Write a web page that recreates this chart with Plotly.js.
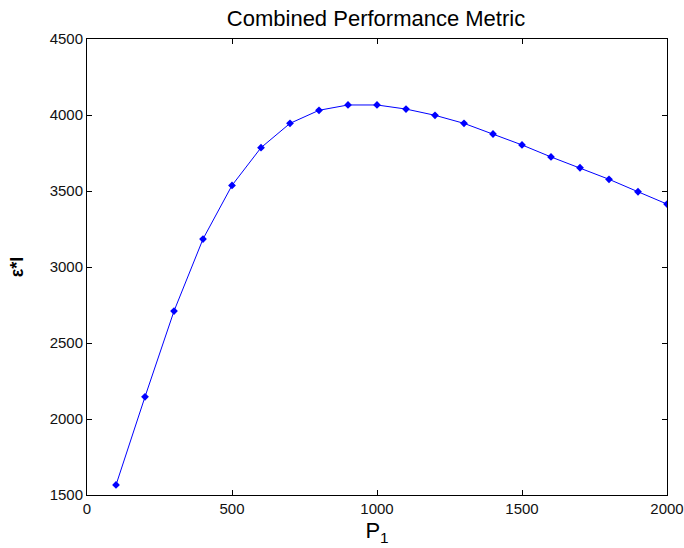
<!DOCTYPE html>
<html>
<head>
<meta charset="utf-8">
<script src="https://cdn.plot.ly/plotly-3.0.1.min.js"></script>
<style>html,body{margin:0;padding:0;background:#fff;}#chart{width:684px;height:548px;}</style>
</head>
<body>
<div id="chart"></div>
<script>
const p1 = [100, 200, 300, 400, 500, 600, 700, 800, 900, 1000, 1100, 1200, 1300, 1400, 1500, 1600, 1700, 1800, 1900, 2000];
const metric = [1566, 2146, 2710, 3184, 3537, 3785, 3945, 4031, 4066, 4066, 4039, 3998, 3945, 3875, 3803, 3724, 3653, 3577, 3495, 3414];
const xTicks = [0, 500, 1000, 1500, 2000];
const yTicks = [1500, 2000, 2500, 3000, 3500, 4000, 4500];

const trace = {
  x: p1, y: metric, type: 'scatter', mode: 'lines+markers',
  line: {color: '#0000ff', width: 1},
  marker: {symbol: 'diamond', size: 6, color: '#0000ff'},
  hoverinfo: 'none'
};
const fontFam = 'Liberation Sans, Arial, Helvetica, sans-serif';
const axisCommon = {
  showline: true, linecolor: '#000', linewidth: 1, mirror: 'ticks',
  ticks: 'inside', ticklen: 5, tickcolor: '#000', tickwidth: 1,
  showgrid: false, zeroline: false,
  tickfont: {family: fontFam, size: 15, color: '#111'}
};
const layout = {
  width: 684, height: 548,
  margin: {l: 87, r: 17, t: 39, b: 53},
  paper_bgcolor: '#fff', plot_bgcolor: '#fff',
  showlegend: false,
  title: {text: 'Combined Performance Metric', font: {family: fontFam, size: 22, color: '#000'},
          x: 376/684, xanchor: 'center', xref: 'container', y: 1 - 18/548, yanchor: 'middle', yref: 'container'},
  xaxis: Object.assign({}, axisCommon, {
    range: [0, 2000], tickvals: xTicks, ticktext: xTicks.map(String),
    title: {text: 'P<sub>1</sub>', font: {family: fontFam, size: 22, color: '#000'}, standoff: 6}
  }),
  yaxis: Object.assign({}, axisCommon, {
    range: [1500, 4500], tickvals: yTicks, ticktext: yTicks.map(String),
    title: {text: '<b>ε*I</b>', font: {family: fontFam, size: 18, color: '#000'}, standoff: 21}
  })
};
Plotly.newPlot('chart', [trace], layout, {displayModeBar: false, staticPlot: true});
</script>
</body>
</html>
